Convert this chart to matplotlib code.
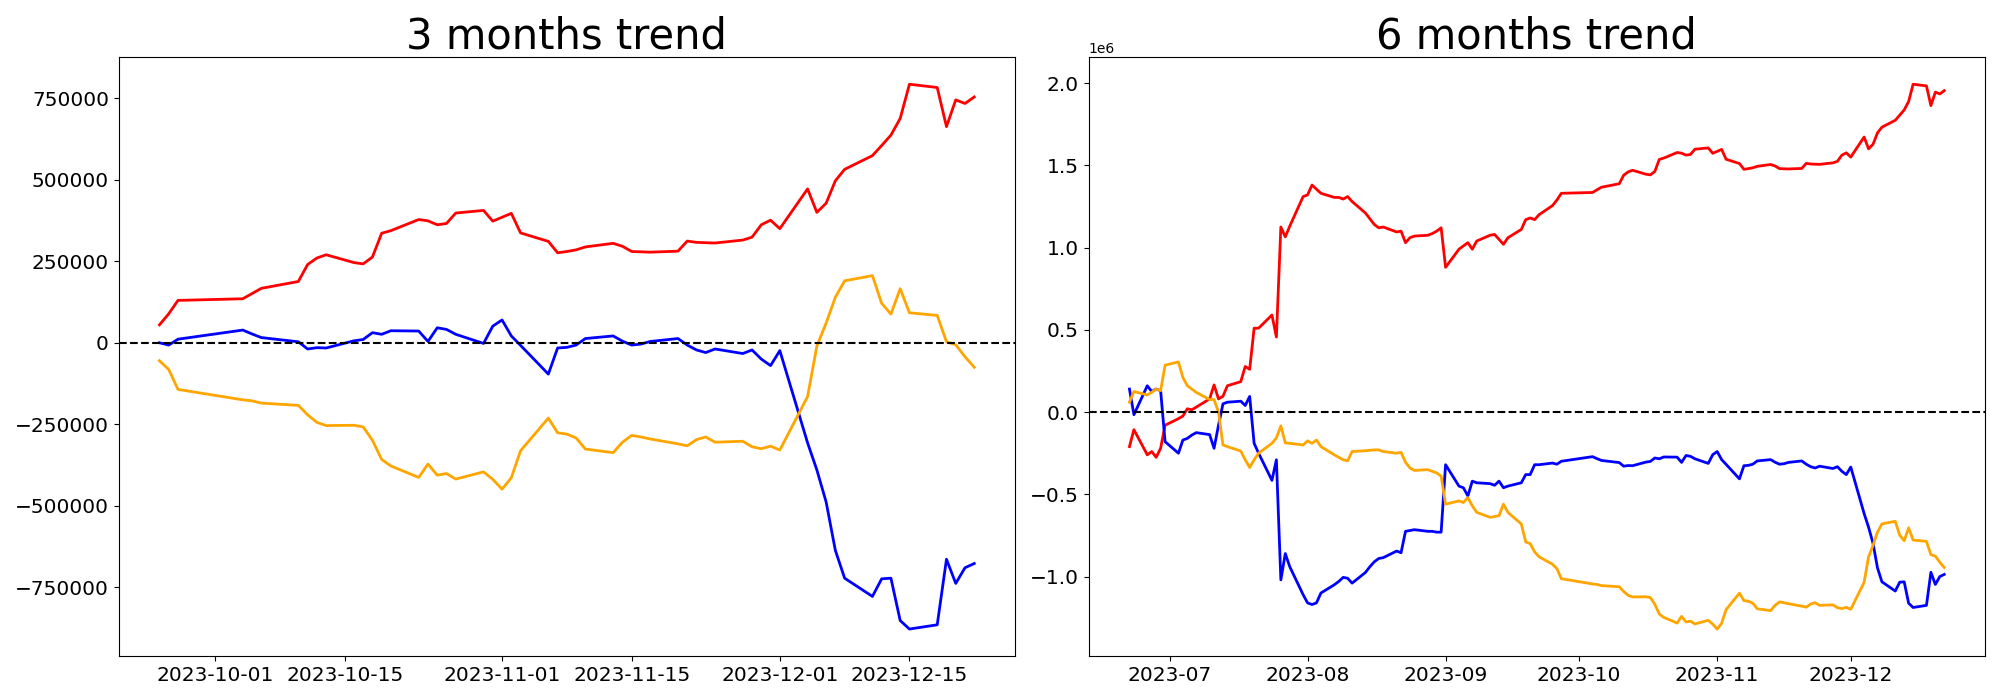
import numpy as np
import pandas as pd
import matplotlib
matplotlib.use("Agg")
import matplotlib.pyplot as plt

# ---- 3 months data (values in thousands) ----
dates_3m = [
    "2023-09-25", "2023-09-26", "2023-09-27", "2023-10-04", "2023-10-05", "2023-10-06",
    "2023-10-10", "2023-10-11", "2023-10-12", "2023-10-13", "2023-10-16", "2023-10-17",
    "2023-10-18", "2023-10-19", "2023-10-20", "2023-10-23", "2023-10-24", "2023-10-25",
    "2023-10-26", "2023-10-27", "2023-10-30", "2023-10-31", "2023-11-01", "2023-11-02",
    "2023-11-03", "2023-11-06", "2023-11-07", "2023-11-08", "2023-11-09", "2023-11-10",
    "2023-11-13", "2023-11-14", "2023-11-15", "2023-11-16", "2023-11-17", "2023-11-20",
    "2023-11-21", "2023-11-22", "2023-11-23", "2023-11-24", "2023-11-27", "2023-11-28",
    "2023-11-29", "2023-11-30", "2023-12-01", "2023-12-04", "2023-12-05", "2023-12-06",
    "2023-12-07", "2023-12-08", "2023-12-11", "2023-12-12", "2023-12-13", "2023-12-14",
    "2023-12-15", "2023-12-18", "2023-12-19", "2023-12-20", "2023-12-21", "2023-12-22",
]
red_3m_k = [
    55, 89, 130, 135, 151, 167, 188, 240, 260, 270, 246, 242,
    263, 336, 344, 378, 374, 362, 366, 398, 406, 373, 385, 397,
    337, 311, 276, 280, 285, 294, 305, 296, 280, 279, 278, 281,
    312, 308, 307, 306, 315, 324, 362, 376, 350, 472, 400, 428,
    497, 532, 574, 605, 637, 688, 793, 783, 663, 745, 734, 754,
]
blue_3m_k = [
    0, -7, 11, 39, 27, 16, 3, -19, -15, -16, 6, 10,
    31, 26, 37, 36, 4, 46, 41, 26, -2, 51, 70, 21,
    -8, -96, -16, -14, -7, 13, 21, 5, -7, -4, 4, 13,
    -7, -22, -30, -19, -33, -22, -50, -70, -24, -307, -390, -488,
    -637, -722, -778, -724, -722, -852, -878, -865, -664, -738, -690, -677,
]
orange_3m_k = [
    -55, -82, -143, -175, -178, -185, -192, -221, -244, -254, -253, -258,
    -299, -358, -378, -413, -372, -406, -401, -418, -396, -419, -449, -414,
    -331, -231, -276, -280, -292, -326, -337, -305, -284, -289, -295, -310,
    -316, -297, -289, -305, -302, -319, -325, -317, -329, -165, -10, 60,
    140, 190, 206, 121, 88, 166, 92, 84, 3, -6, -43, -75,
]

# ---- 6 months data (values in millions) ----
dates_6m = [
    "2023-06-22", "2023-06-23", "2023-06-26", "2023-06-27", "2023-06-28", "2023-06-29",
    "2023-06-30", "2023-07-03", "2023-07-04", "2023-07-05", "2023-07-06", "2023-07-07",
    "2023-07-10", "2023-07-11", "2023-07-12", "2023-07-13", "2023-07-14", "2023-07-17",
    "2023-07-18", "2023-07-19", "2023-07-20", "2023-07-21", "2023-07-24", "2023-07-25",
    "2023-07-26", "2023-07-27", "2023-07-28", "2023-07-31", "2023-08-01", "2023-08-02",
    "2023-08-03", "2023-08-04", "2023-08-07", "2023-08-08", "2023-08-09", "2023-08-10",
    "2023-08-11", "2023-08-14", "2023-08-15", "2023-08-16", "2023-08-17", "2023-08-18",
    "2023-08-21", "2023-08-22", "2023-08-23", "2023-08-24", "2023-08-25", "2023-08-28",
    "2023-08-29", "2023-08-30", "2023-08-31", "2023-09-01", "2023-09-04", "2023-09-05",
    "2023-09-06", "2023-09-07", "2023-09-08", "2023-09-11", "2023-09-12", "2023-09-13",
    "2023-09-14", "2023-09-15", "2023-09-18", "2023-09-19", "2023-09-20", "2023-09-21",
    "2023-09-22",
] + dates_3m
red_6m_m = [
    -0.21, -0.107, -0.26, -0.24, -0.275, -0.22, -0.08,
    -0.04, -0.024, 0.02, 0.014, 0.03, 0.08, 0.165, 0.08, 0.096, 0.16, 0.185,
    0.277, 0.26, 0.51, 0.51, 0.59, 0.456, 1.125, 1.065, 1.13, 1.31,
    1.32, 1.38, 1.355, 1.33, 1.305, 1.305, 1.295, 1.31, 1.28, 1.21, 1.175, 1.14,
    1.12, 1.125, 1.095, 1.10, 1.03, 1.06, 1.07, 1.075, 1.085, 1.10, 1.12,
    0.88, 0.99, 1.01, 1.03, 0.99, 1.04, 1.075, 1.08, 1.05, 1.02, 1.06, 1.11,
    1.17, 1.18, 1.17, 1.20,
    1.255, 1.289, 1.33, 1.335, 1.351, 1.367, 1.388, 1.44, 1.46, 1.47, 1.446, 1.442,
    1.463, 1.536, 1.544, 1.578, 1.574, 1.562, 1.566, 1.598, 1.606, 1.573, 1.585, 1.597,
    1.537, 1.511, 1.476, 1.48, 1.485, 1.494, 1.505, 1.496, 1.48, 1.479, 1.478, 1.481,
    1.512, 1.508, 1.507, 1.506, 1.515, 1.524, 1.562, 1.576, 1.55, 1.672, 1.60, 1.628,
    1.697, 1.732, 1.774, 1.805, 1.837, 1.888, 1.993, 1.983, 1.863, 1.945, 1.934, 1.954,
]
blue_6m_m = [
    0.14, -0.016, 0.16, 0.125, 0.14, 0.13, -0.18,
    -0.25, -0.17, -0.16, -0.14, -0.125, -0.137, -0.22, -0.08, 0.05, 0.06, 0.066,
    0.04, 0.095, -0.19, -0.25, -0.415, -0.29, -1.02, -0.86, -0.94, -1.11,
    -1.16, -1.17, -1.16, -1.10, -1.05, -1.03, -1.005, -1.01, -1.04, -0.975, -0.94, -0.91,
    -0.89, -0.885, -0.845, -0.855, -0.725, -0.72, -0.715, -0.725, -0.725, -0.73, -0.73,
    -0.32, -0.45, -0.46, -0.51, -0.42, -0.43, -0.435, -0.445, -0.42, -0.46, -0.45, -0.43,
    -0.38, -0.38, -0.32, -0.32,
    -0.31, -0.317, -0.299, -0.271, -0.283, -0.294, -0.307, -0.329, -0.325, -0.326, -0.304, -0.30,
    -0.279, -0.284, -0.273, -0.274, -0.306, -0.264, -0.269, -0.284, -0.312, -0.259, -0.24, -0.289,
    -0.318, -0.406, -0.326, -0.324, -0.317, -0.297, -0.289, -0.305, -0.317, -0.314, -0.306, -0.297,
    -0.317, -0.332, -0.34, -0.329, -0.343, -0.332, -0.36, -0.38, -0.334, -0.617, -0.70, -0.798,
    -0.947, -1.032, -1.088, -1.034, -1.032, -1.162, -1.188, -1.175, -0.974, -1.048, -1.00, -0.987,
]
orange_6m_m = [
    0.06, 0.125, 0.104, 0.12, 0.14, 0.13, 0.285,
    0.305, 0.21, 0.16, 0.14, 0.12, 0.076, 0.076, 0.0, -0.20, -0.21, -0.237,
    -0.29, -0.337, -0.29, -0.25, -0.19, -0.157, -0.084, -0.187, -0.19, -0.20,
    -0.175, -0.19, -0.17, -0.21, -0.26, -0.275, -0.29, -0.296, -0.24, -0.235, -0.232, -0.23,
    -0.23, -0.24, -0.25, -0.245, -0.305, -0.34, -0.355, -0.35, -0.36, -0.37, -0.39,
    -0.56, -0.54, -0.55, -0.52, -0.57, -0.61, -0.64, -0.635, -0.63, -0.56, -0.61, -0.68,
    -0.79, -0.80, -0.85, -0.88,
    -0.925, -0.952, -1.013, -1.045, -1.048, -1.055, -1.062, -1.091, -1.114, -1.124, -1.123, -1.128,
    -1.169, -1.228, -1.248, -1.283, -1.242, -1.276, -1.271, -1.288, -1.266, -1.289, -1.319, -1.284,
    -1.201, -1.101, -1.146, -1.15, -1.162, -1.196, -1.207, -1.175, -1.154, -1.159, -1.165, -1.18,
    -1.186, -1.167, -1.159, -1.175, -1.172, -1.189, -1.195, -1.187, -1.199, -1.035, -0.88, -0.81,
    -0.73, -0.68, -0.664, -0.749, -0.782, -0.704, -0.778, -0.786, -0.867, -0.876, -0.913, -0.945,
]

titles = ["3 months trend", "6 months trend"]
ticks_3m = ["2023-10-01", "2023-10-15", "2023-11-01", "2023-11-15", "2023-12-01", "2023-12-15"]
ticks_6m = ["2023-07-01", "2023-08-01", "2023-09-01", "2023-10-01", "2023-11-01", "2023-12-01"]
tick_labels_6m = ["2023-07", "2023-08", "2023-09", "2023-10", "2023-11", "2023-12"]


def plot_trend(ax, dates, red, blue, orange, title):
    """Draws the three trend lines plus the zero reference."""
    x = pd.to_datetime(dates)
    ax.plot(x, red, color="red", linewidth=2)
    ax.plot(x, blue, color="blue", linewidth=2)
    ax.plot(x, orange, color="orange", linewidth=2)
    ax.axhline(0, color="black", linestyle="--", linewidth=1.5)
    ax.set_title(title, fontsize=30)
    ax.tick_params(axis="both", labelsize=14.5)


fig, axes = plt.subplots(1, 2, figsize=(20, 7))

plot_trend(
    axes[0], dates_3m,
    np.array(red_3m_k) * 1e3, np.array(blue_3m_k) * 1e3, np.array(orange_3m_k) * 1e3,
    titles[0],
)
plot_trend(
    axes[1], dates_6m,
    np.array(red_6m_m) * 1e6, np.array(blue_6m_m) * 1e6, np.array(orange_6m_m) * 1e6,
    titles[1],
)

axes[0].set_xticks(pd.to_datetime(ticks_3m))
axes[0].set_xticklabels(ticks_3m)
axes[1].set_xticks(pd.to_datetime(ticks_6m))
axes[1].set_xticklabels(tick_labels_6m)

plt.tight_layout()
plt.savefig("out.png", dpi=100)
plt.close()
